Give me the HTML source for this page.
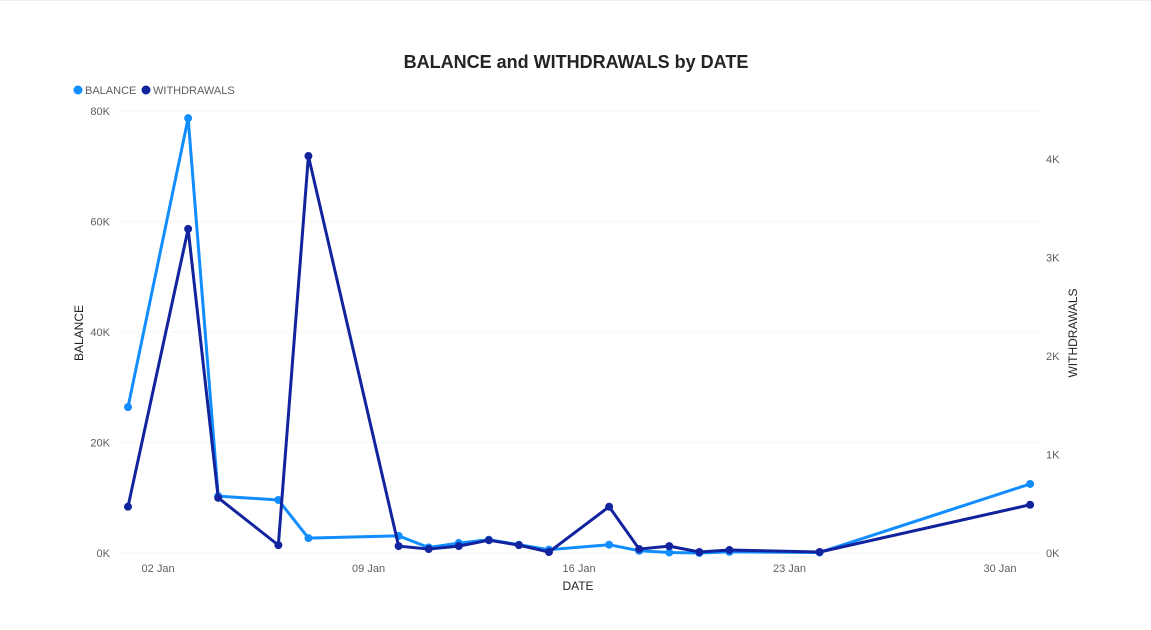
<!DOCTYPE html>
<html><head><meta charset="utf-8"><style>
body{margin:0;background:#fff;font-family:"Liberation Sans",sans-serif;}
svg text{font-family:"Liberation Sans",sans-serif;}
</style></head><body>
<svg id="chart" width="1151" height="625" xmlns="http://www.w3.org/2000/svg">
<rect width="1151" height="625" fill="#fff"/>
<line x1="0" y1="0.5" x2="1151" y2="0.5" stroke="#eee"/>
<text x="576" y="68" text-anchor="middle" font-size="18" font-weight="bold" fill="#252423">BALANCE and WITHDRAWALS by DATE</text>
<g>
<circle cx="78" cy="90" r="4.5" fill="#118DFF"/>
<text x="85" y="94" font-size="11" fill="#605E5C">BALANCE</text>
<circle cx="146" cy="90" r="4.5" fill="#12239E"/>
<text x="153" y="94" font-size="11" fill="#605E5C">WITHDRAWALS</text>
</g>
<text transform="translate(83,333) rotate(-90)" text-anchor="middle" font-size="12" fill="#252423">BALANCE</text>
<text transform="translate(1077,333) rotate(-90)" text-anchor="middle" font-size="12" fill="#252423">WITHDRAWALS</text>
<text x="578" y="590" text-anchor="middle" font-size="12" fill="#252423">DATE</text>
<g id="grid"></g><g id="axes"></g><g id="series"></g>
</svg>
<script>
const days = [1,3,4,6,7,10,11,12,13,14,15,17,18,19,20,21,24,31];
const balance = [26.4,78.7,10.3,9.6,2.7,3.1,1.0,1.8,2.4,1.5,0.6,1.5,0.4,0.1,0.0,0.2,0.1,12.5];
const withdrawals = [0.47,3.29,0.56,0.08,4.03,0.07,0.04,0.07,0.13,0.08,0.01,0.47,0.04,0.07,0.01,0.03,0.01,0.49];
const leftTicks = [0,20,40,60,80];
const rightTicks = [0,1,2,3,4];
const xTickDays = [2,9,16,23,30];
const xTickLabels = ["02 Jan","09 Jan","16 Jan","23 Jan","30 Jan"];

const NS="http://www.w3.org/2000/svg";
const x = d => 128 + (d-1)*30.07;
const yL = v => 553 - v*5.525;
const yR = v => 553 - v*98.5;
function mk(tag, attrs, parent){const e=document.createElementNS(NS,tag);for(const k in attrs)e.setAttribute(k,attrs[k]);parent.appendChild(e);return e;}
const grid=document.getElementById('grid'), axes=document.getElementById('axes'), series=document.getElementById('series');
leftTicks.forEach(t=>{
  const l=mk('line',{x1:118,x2:1040,y1:yL(t),y2:yL(t),stroke:'#ddd','stroke-dasharray':'1,3'},grid);
  
  
  const tx=mk('text',{x:110,y:yL(t)+4,'text-anchor':'end','font-size':11,fill:'#605E5C'},axes);
  tx.textContent=t+'K';
  
  
});
rightTicks.forEach(t=>{
  const tx=mk('text',{x:1046,y:yR(t)+4,'font-size':11,fill:'#605E5C'},axes);
  tx.textContent=t+'K';
  
  
});
xTickDays.forEach((d,i)=>{
  const tx=mk('text',{x:x(d),y:572,'text-anchor':'middle','font-size':11,fill:'#605E5C'},axes);
  tx.textContent=xTickLabels[i];
  
  
});
function draw(vals, yf, color, name){
  const p=mk('polyline',{points:vals.map((v,i)=>x(days[i])+','+yf(v)).join(' '),fill:'none',stroke:color,'stroke-width':3,'stroke-linejoin':'round'},series);
  
  
  vals.forEach((v,i)=>{
    const c=mk('circle',{cx:x(days[i]),cy:yf(v),r:4,fill:color},series);
    
    
  });
}
draw(balance,yL,'#118DFF','balance');
draw(withdrawals,yR,'#12239E','withdrawals');
</script>
</body></html>
